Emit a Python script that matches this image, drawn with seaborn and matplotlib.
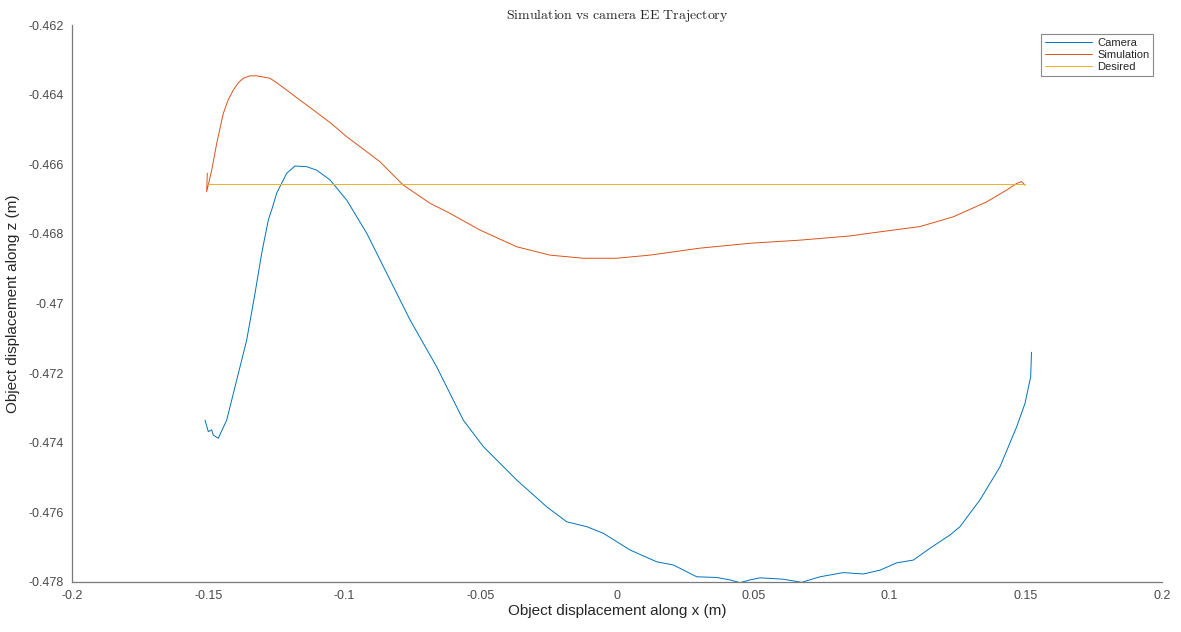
import matplotlib
matplotlib.use("Agg")
import matplotlib.pyplot as plt
import numpy as np
import pandas as pd
import seaborn as sns

# Camera-tracked end-effector trajectory (x, z) in metres
camera_x = [-0.15119, -0.14998, -0.14873, -0.14815, -0.14631, -0.14323, -0.13956,
            -0.13589, -0.13284, -0.13039, -0.12796, -0.12672, -0.12488, -0.12367,
            -0.12121, -0.11817, -0.11387, -0.11020, -0.10532, -0.09919, -0.09185,
            -0.08451, -0.07596, -0.06616, -0.05640, -0.04906, -0.04294, -0.03681,
            -0.02580, -0.01846, -0.01112, -0.00503, 0.00477, 0.01457, 0.02066,
            0.02925, 0.03659, 0.04147, 0.04514, 0.04881, 0.05248, 0.06103, 0.06778,
            0.07450, 0.08305, 0.09039, 0.09651, 0.10264, 0.10873, 0.11486, 0.12220,
            0.12587, 0.13321, 0.14055, 0.14668, 0.14972, 0.15182, 0.15210]
camera_z = [-0.47335, -0.47368, -0.47363, -0.47378, -0.47387, -0.47335, -0.47220,
            -0.47105, -0.46971, -0.46856, -0.46760, -0.46731, -0.46683, -0.46664,
            -0.46626, -0.46605, -0.46607, -0.46617, -0.46645, -0.46703, -0.46798,
            -0.46913, -0.47047, -0.47182, -0.47335, -0.47411, -0.47459, -0.47507,
            -0.47584, -0.47627, -0.47641, -0.47660, -0.47708, -0.47742, -0.47751,
            -0.47785, -0.47787, -0.47794, -0.47802, -0.47794, -0.47788, -0.47792,
            -0.47801, -0.47785, -0.47773, -0.47777, -0.47766, -0.47745, -0.47737,
            -0.47703, -0.47665, -0.47641, -0.47564, -0.47469, -0.47354, -0.47287,
            -0.47210, -0.47140]

# Simulated end-effector trajectory
sim_x = [-0.15035, -0.15057, -0.14873, -0.14690, -0.14448, -0.14268, -0.14081,
         -0.13897, -0.13714, -0.13468, -0.13222, -0.12734, -0.12450, -0.12121,
         -0.11700, -0.11145, -0.10500, -0.09919, -0.09300, -0.08697, -0.07842,
         -0.06862, -0.06128, -0.05028, -0.03681, -0.02459, -0.01237, -0.00011,
         0.01211, 0.03046, 0.04881, 0.06716, 0.08550, 0.09284, 0.11119, 0.12341,
         0.13567, 0.14301, 0.14668, 0.14851, 0.14972]
sim_z = [-0.46626, -0.46679, -0.46617, -0.46540, -0.46454, -0.46415, -0.46387,
         -0.46366, -0.46353, -0.46346, -0.46346, -0.46353, -0.46368, -0.46387,
         -0.46412, -0.46444, -0.46482, -0.46521, -0.46557, -0.46593, -0.46660,
         -0.46712, -0.46741, -0.46789, -0.46837, -0.46861, -0.46870, -0.46870,
         -0.46861, -0.46841, -0.46827, -0.46818, -0.46806, -0.46798, -0.46779,
         -0.46751, -0.46708, -0.46674, -0.46655, -0.46650, -0.46660]

# Desired (constant height) trajectory
desired_x = [-0.1505, 0.1497]
desired_z = [-0.46658, -0.46658]

series_names = ["Camera", "Simulation", "Desired"]
series_colors = ["#0072BD", "#D95319", "#EDB120"]

x_ticks = [-0.2, -0.15, -0.1, -0.05, 0, 0.05, 0.1, 0.15, 0.2]
x_tick_labels = ["-0.2", "-0.15", "-0.1", "-0.05", "0", "0.05", "0.1", "0.15", "0.2"]
y_ticks = [-0.478, -0.476, -0.474, -0.472, -0.47, -0.468, -0.466, -0.464, -0.462]
y_tick_labels = ["-0.478", "-0.476", "-0.474", "-0.472", "-0.47", "-0.468",
                 "-0.466", "-0.464", "-0.462"]

frames = []
for name, xs, zs in zip(series_names,
                        [camera_x, sim_x, desired_x],
                        [camera_z, sim_z, desired_z]):
    frames.append(pd.DataFrame({"x": xs, "z": zs, "series": name}))
df = pd.concat(frames, ignore_index=True)

sns.set_theme(style="white")
plt.rcParams["font.family"] = ["Liberation Sans", "DejaVu Sans"]
plt.rcParams["mathtext.fontset"] = "cm"

fig = plt.figure(figsize=(11.81, 6.32), dpi=100)
ax = fig.add_axes([72 / 1181, 1 - 582 / 632, (1162 - 72) / 1181, (582 - 25) / 632])

sns.lineplot(data=df, x="x", y="z", hue="series", hue_order=series_names,
             palette=dict(zip(series_names, series_colors)), sort=False,
             estimator=None, units="series", linewidth=0.7, ax=ax, legend=True)

ax.set_xlim(-0.2, 0.2)
ax.set_ylim(-0.478, -0.462)
ax.set_xticks(x_ticks)
ax.set_xticklabels(x_tick_labels)
ax.set_yticks(y_ticks)
ax.set_yticklabels(y_tick_labels)

spine_color = "#7a7a7a"
for side in ["top", "right"]:
    ax.spines[side].set_visible(False)
for side in ["left", "bottom"]:
    ax.spines[side].set_color(spine_color)
    ax.spines[side].set_linewidth(0.9)
ax.tick_params(axis="both", direction="in", length=7, width=0.8,
               color=spine_color, labelsize=9, labelcolor="#4a4a4a", pad=6)

ax.set_xlabel("Object displacement along x (m)", fontsize=11, color="#262626",
              labelpad=1)
ax.set_ylabel("Object displacement along z (m)", fontsize=11, color="#262626",
              labelpad=6)
ax.set_title(r"$\mathrm{Simulation\ vs\ camera\ EE\ Trajectory}$", fontsize=10,
             color="#262626", pad=4)

leg = ax.legend(loc="upper right", bbox_to_anchor=(0.992, 0.984), fontsize=8,
                frameon=True, fancybox=False, framealpha=1, edgecolor="#8a8a8a",
                handlelength=4.2, handletextpad=0.5, borderpad=0.35,
                labelspacing=0.2, borderaxespad=0)
leg.get_frame().set_linewidth(0.8)
for line in leg.get_lines():
    line.set_linewidth(0.7)
for text in leg.get_texts():
    text.set_color("#262626")

fig.savefig("out.png", dpi=100)
